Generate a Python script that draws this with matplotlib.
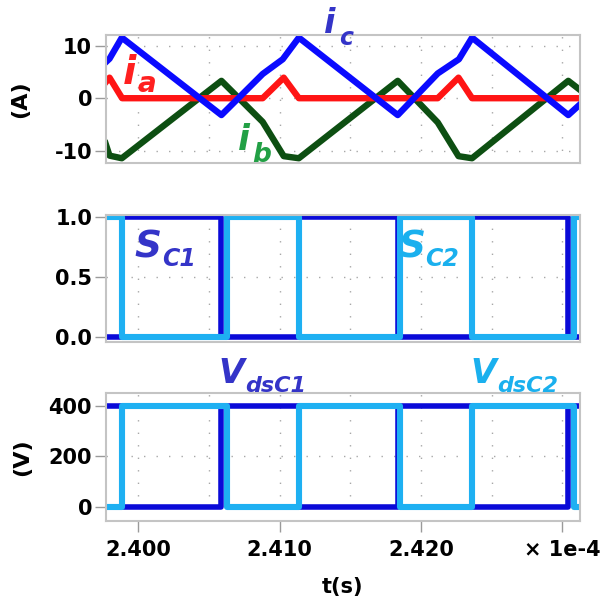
import numpy as np
import matplotlib
matplotlib.use("Agg")
import matplotlib.pyplot as plt
from matplotlib.ticker import MultipleLocator

plt.rcParams["font.family"] = ["DejaVu Sans"]
plt.rcParams["font.weight"] = "bold"
plt.rcParams["axes.unicode_minus"] = False

# ---- data (time in units of 1e-4 s) ----
t_ia = [2.39767, 2.39795, 2.39884, 2.40879, 2.41028, 2.41135, 2.42118, 2.42265, 2.42361, 2.43124]
ia = [3.0, 3.9, 0.0, 0.0, 3.9, 0.0, 0.0, 3.9, 0.0, 0.0]

t_ib = [2.39767, 2.39795, 2.39882, 2.40587, 2.40879, 2.41028, 2.41135,
        2.41835, 2.42118, 2.42265, 2.42361, 2.43042, 2.43124]
ib = [-8.6, -10.9, -11.4, 3.3, -4.5, -11.0, -11.4, 3.3, -4.6, -11.0, -11.4, 3.3, 1.6]

t_ic = [2.39767, 2.39795, 2.39882, 2.40587, 2.40879, 2.41021, 2.41135,
        2.41835, 2.42118, 2.42268, 2.42361, 2.43042, 2.43124]
ic = [6.8, 7.5, 11.5, -3.2, 4.6, 7.4, 11.5, -3.2, 4.7, 7.4, 11.5, -3.2, -1.2]

# gate signal switching instants
sc1_edges = [2.39882, 2.40587, 2.41135, 2.41835, 2.42361, 2.43042]
sc2_edges = [2.39882, 2.40628, 2.41135, 2.41848, 2.42361, 2.43083]
s_levels = [0.0, 1.0]
vds_levels = [0.0, 400.0]

t_start, t_end = 2.3977, 2.43125
xticks = [2.400, 2.410, 2.420, 2.430]
xtick_labels = ["2.400", "2.410", "2.420", "\u00d7 1e-4"]


def step_wave(edges, levels, start_high):
    """Square wave toggling between two levels at the given instants."""
    xs, ys = [t_start], []
    state = 1 if start_high else 0
    ys.append(levels[state])
    for e in edges:
        xs += [e, e]
        ys += [levels[state], levels[1 - state]]
        state = 1 - state
    xs.append(t_end)
    ys.append(levels[state])
    return np.array(xs), np.array(ys)


W, H = 607, 604
fig = plt.figure(figsize=(W / 100, H / 100), dpi=100)


def axes_px(x0, y0, x1, y1):
    return fig.add_axes([x0 / W, 1 - y1 / H, (x1 - x0) / W, (y1 - y0) / H])


ax1 = axes_px(106, 35, 580, 163)
ax2 = axes_px(106, 214.5, 580, 341.5)
ax3 = axes_px(106, 393, 580, 520.5)

DARK = "#0a0ad8"
LIGHT = "#1eb0f2"
grid_kw = dict(color="#a8a8a8", linestyle=(0, (1, 8)), linewidth=1.0)

for ax in (ax1, ax2, ax3):
    ax.set_xlim(t_start, t_end)
    for s in ax.spines.values():
        s.set_color("#c4c4c4")
        s.set_linewidth(1.5)
    ax.set_axisbelow(True)
    ax.tick_params(axis="y", length=8, width=1, color="#9a9a9a", pad=2,
                   labelsize=15)
    ax.xaxis.set_minor_locator(MultipleLocator(0.005))
    ax.grid(True, which="both", axis="x", **grid_kw)
    ax.grid(True, which="major", axis="y", **grid_kw)

for ax in (ax1, ax2):
    ax.set_xticks(xticks)
    ax.tick_params(axis="x", which="both", length=0, labelbottom=False)

ax3.set_xticks(xticks, labels=xtick_labels)
ax3.tick_params(axis="x", which="major", length=8, width=1, color="#9a9a9a",
                pad=6, labelsize=15)
ax3.tick_params(axis="x", which="minor", length=0)

# ---- phase currents ----
ax1.plot(t_ib, ib, color="#0d4f12", lw=4.6, solid_joinstyle="round")
ax1.plot(t_ia, ia, color="#ff1414", lw=4.6, solid_joinstyle="round")
ax1.plot(t_ic, ic, color="#0a0aff", lw=4.6, solid_joinstyle="round")
ax1.set_ylim(-12.3, 12.0)
ax1.set_yticks([-10, 0, 10])
ax1.set_ylabel("(A)", fontsize=16, fontweight="bold")
ax1.yaxis.set_label_coords(-0.16, 0.5)

# ---- gate signals ----
x, y = step_wave(sc1_edges, s_levels, start_high=False)
ax2.plot(x, y, color=DARK, lw=4.0)
x, y = step_wave(sc2_edges, s_levels, start_high=True)
ax2.plot(x, y, color=LIGHT, lw=4.4)
ax2.set_ylim(-0.035, 1.018)
ax2.set_yticks([0.0, 0.5, 1.0])

# ---- drain-source voltages ----
x, y = step_wave(sc1_edges, vds_levels, start_high=True)
ax3.plot(x, y, color=DARK, lw=4.0)
x, y = step_wave(sc2_edges, vds_levels, start_high=False)
ax3.plot(x, y, color=LIGHT, lw=4.4)
ax3.set_ylim(-54, 450)
ax3.set_yticks([0, 200, 400])
ax3.set_ylabel("(V)", fontsize=16, fontweight="bold")
ax3.yaxis.set_label_coords(-0.155, 0.5)
ax3.set_xlabel("t(s)", fontsize=15, fontweight="bold", labelpad=12)


def sym(x, y, main, sub, color, size, sub_size, dx, dy):
    """Italic symbol with subscript, positioned in pixel coordinates."""
    kw = dict(color=color, fontweight="bold", fontstyle="italic",
              ha="left", va="baseline")
    fig.text(x / W, 1 - y / H, main, fontsize=size, **kw)
    fig.text((x + dx) / W, 1 - (y + dy) / H, sub, fontsize=sub_size, **kw)


BLUE_TXT = "#3434c8"
sym(324, 33, "i", "c", BLUE_TXT, 24, 17, 15, 12)
sym(123, 84, "i", "a", "#ff2020", 28, 20, 15, 8)
sym(238, 150, "i", "b", "#22a045", 25, 19, 14, 12)
sym(134, 257, "S", "C1", BLUE_TXT, 27, 17, 28, 9)
sym(398, 257, "S", "C2", "#1ab0ee", 27, 17, 27, 9)
sym(218, 383, "V", "dsC1", BLUE_TXT, 24, 16, 27, 9)
sym(470, 383, "V", "dsC2", "#1ab0ee", 24, 16, 27, 9)

fig.savefig("out.png", dpi=100)
